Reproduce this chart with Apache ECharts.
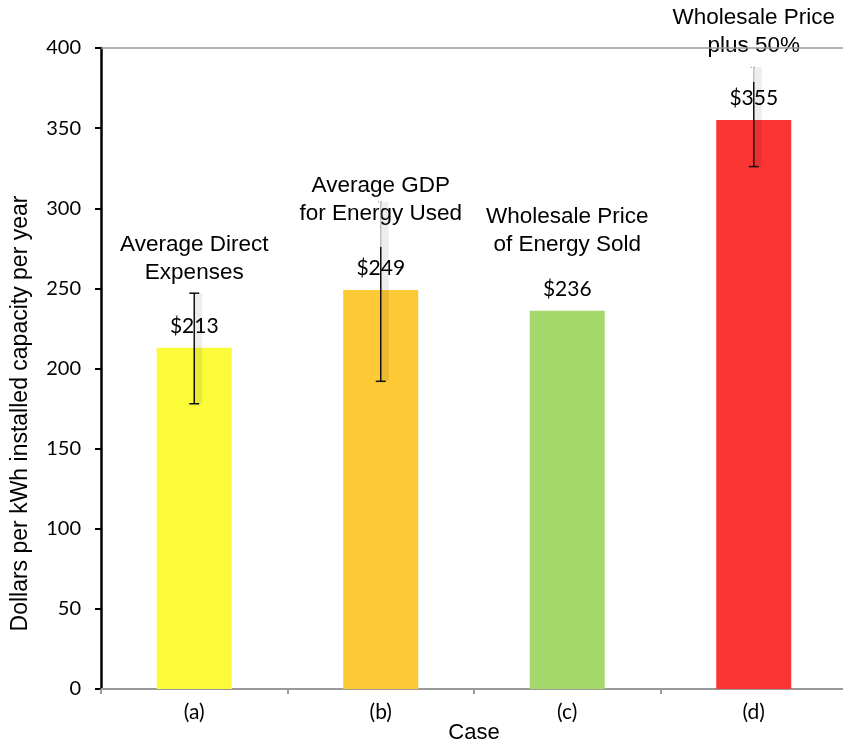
<!DOCTYPE html>
<html>
<head>
<meta charset="utf-8">
<script src="https://cdn.jsdelivr.net/npm/echarts@6/dist/echarts.min.js"></script>
<style>html,body{margin:0;padding:0;background:#fff}#c{width:843px;height:744px}</style>
</head>
<body>
<div id="c"></div>
<script>
var categories = ['(a)', '(b)', '(c)', '(d)'];
var annotations = ['Average Direct\nExpenses', 'Average GDP\nfor Energy Used', 'Wholesale Price\nof Energy Sold', 'Wholesale Price\nplus 50%'];
var values = [213, 249, 236, 355];
var errLow = [178, 192, null, 326];
var errSolidHigh = [247, 276, null, 379];
var errHigh = [247, 304, null, 388];
var yTicks = [0, 50, 100, 150, 200, 250, 300, 350, 400];

var barColors = ['#fbfb3a', '#fdc935', '#a5d86b', '#fb3434'];
var annotDistance = [61, 62, 52, 60];

var chart = echarts.init(document.getElementById('c'), null, {renderer: 'canvas'});

var errData = [];
for (var i = 0; i < categories.length; i++) {
  if (errLow[i] != null) errData.push([i, errLow[i], errSolidHigh[i], errHigh[i]]);
}

var option = {
  animation: false,
  backgroundColor: '#fff',
  grid: {left: 101, top: 48, width: 746, height: 641, containLabel: false, outerBoundsMode: 'none'},
  xAxis: {
    type: 'category',
    data: categories,
    name: 'Case',
    nameLocation: 'middle',
    nameGap: 33,
    nameMoveOverlap: false,
    nameTextStyle: {fontFamily: 'Liberation Sans', fontSize: 22, color: '#000'},
    axisLine: {lineStyle: {color: '#9a9a9a', width: 2}},
    axisTick: {show: true, length: 5, lineStyle: {color: '#9a9a9a', width: 2}},
    axisLabel: {fontFamily: 'Lato', fontSize: 21, color: '#000', margin: 13},
    splitLine: {show: false}
  },
  yAxis: {
    type: 'value',
    min: yTicks[0],
    max: yTicks[yTicks.length - 1],
    interval: yTicks[1] - yTicks[0],
    name: 'Dollars per kWh installed capacity per year',
    nameLocation: 'middle',
    nameGap: 69,
    nameMoveOverlap: false,
    nameTextStyle: {fontFamily: 'Liberation Sans', fontSize: 23, color: '#000', padding: [0, 90, 0, 0]},
    axisLine: {show: true, lineStyle: {color: '#000', width: 2.5}},
    axisTick: {show: true, inside: false, length: 6, lineStyle: {color: '#000', width: 2}},
    axisLabel: {fontFamily: 'Lato', fontSize: 20, color: '#000', margin: 20},
    splitLine: {show: false}
  },
  series: [
    {
      type: 'bar',
      z: 2,
      barWidth: 75,
      data: values.map(function (v, i) { return {value: v, itemStyle: {color: barColors[i]}}; }),
      label: {
        show: true, position: 'top', distance: 11,
        fontFamily: 'Lato', fontSize: 21, color: '#000',
        formatter: function (p) { return '$' + p.value; }
      },
      markLine: {
        silent: true, symbol: ['none', 'none'],
        label: {show: false},
        lineStyle: {color: '#9a9a9a', width: 1.5, type: 'solid'},
        data: [{yAxis: yTicks[yTicks.length - 1]}]
      }
    },
    {
      type: 'scatter',
      z: 4,
      symbolSize: 0,
      itemStyle: {opacity: 1},
      data: values.map(function (v, i) {
        var lbl = {distance: annotDistance[i]};
        if (i === 3) { lbl.backgroundColor = '#fff'; lbl.padding = [0, 4, 0, 4]; }
        return {value: [i, v], label: lbl};
      }),
      label: {
        show: true, position: 'top',
        fontFamily: 'Liberation Sans', fontSize: 22.5, lineHeight: 28, color: '#000',
        align: 'center', opacity: 1,
        formatter: function (p) { return annotations[p.dataIndex]; }
      }
    },
    {
      type: 'custom',
      z: 6,
      data: errData,
      encode: {x: 0, y: 1},
      renderItem: function (params, api) {
        var idx = api.value(0);
        var lo = api.value(1), sh = api.value(2), hi = api.value(3);
        var pL = api.coord([idx, lo]);
        var pS = api.coord([idx, sh]);
        var pH = api.coord([idx, hi]);
        var x = pL[0];
        var ch = [
          {type: 'rect', shape: {x: x, y: pH[1], width: 8, height: pL[1] - pH[1]}, style: {fill: 'rgba(0,0,0,0.07)'}},
          {type: 'line', shape: {x1: x, y1: pL[1], x2: x, y2: pS[1]}, style: {stroke: '#111', lineWidth: 1.5}},
          {type: 'line', shape: {x1: x - 5, y1: pL[1], x2: x + 5, y2: pL[1]}, style: {stroke: '#111', lineWidth: 1.5}}
        ];
        if (hi > sh) {
          ch.push({type: 'line', shape: {x1: x, y1: pS[1], x2: x, y2: pH[1]}, style: {stroke: '#aaa', lineWidth: 1}});
          ch.push({type: 'line', shape: {x1: x - 3, y1: pH[1], x2: x + 3, y2: pH[1]}, style: {stroke: '#777', lineWidth: 1, lineDash: [1, 2]}});
        } else {
          ch.push({type: 'line', shape: {x1: x - 5, y1: pS[1], x2: x + 5, y2: pS[1]}, style: {stroke: '#111', lineWidth: 1.5}});
        }
        return {type: 'group', children: ch};
      }
    }
  ]
};
chart.setOption(option);
</script>
</body>
</html>
